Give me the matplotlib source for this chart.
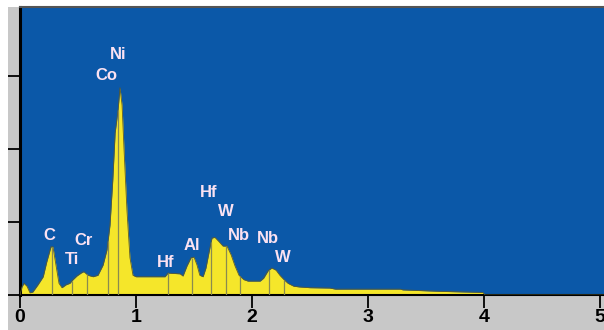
import numpy as np
import matplotlib.pyplot as plt
from matplotlib.patches import Rectangle

# spectrum (energy keV, counts in axis units)
energy = [0.0, 0.017, 0.034, 0.06, 0.086, 0.11, 0.155, 0.2, 0.23, 0.267, 0.284,
          0.31, 0.336, 0.362, 0.397, 0.43, 0.457, 0.49, 0.526, 0.55, 0.586, 0.63,
          0.672, 0.716, 0.75, 0.776, 0.8, 0.82, 0.845, 0.862, 0.88, 0.897, 0.922,
          0.948, 0.974, 1.0, 1.12, 1.25, 1.276, 1.38, 1.405, 1.44, 1.474, 1.5,
          1.526, 1.55, 1.578, 1.603, 1.63, 1.655, 1.68, 1.716, 1.75, 1.784, 1.82,
          1.853, 1.888, 1.93, 1.966, 2.07, 2.1, 2.138, 2.17, 2.207, 2.24, 2.276,
          2.31, 2.36, 2.41, 2.5, 2.67, 2.72, 3.28, 3.3, 3.62, 3.99, 4.01, 5.034]
counts = [0.0, 0.11, 0.16, 0.12, 0.03, 0.04, 0.14, 0.25, 0.45, 0.66, 0.66,
          0.41, 0.16, 0.10, 0.14, 0.16, 0.21, 0.26, 0.30, 0.32, 0.27, 0.25,
          0.27, 0.41, 0.62, 0.96, 1.58, 2.22, 2.53, 2.84, 2.6, 1.99, 1.16,
          0.51, 0.27, 0.25, 0.25, 0.25, 0.30, 0.29, 0.26, 0.40, 0.51, 0.52,
          0.41, 0.27, 0.25, 0.37, 0.59, 0.78, 0.79, 0.73, 0.67, 0.67, 0.55,
          0.40, 0.27, 0.21, 0.19, 0.19, 0.23, 0.33, 0.37, 0.34, 0.27, 0.21,
          0.16, 0.12, 0.11, 0.10, 0.095, 0.08, 0.08, 0.07, 0.05, 0.035, 0.0, 0.0]

# element markers
elements = ['C', 'Ti', 'Cr', 'Co', 'Ni', 'Hf', 'Al', 'Hf', 'W', 'Nb', 'Nb', 'W']
line_e = [0.276, 0.448, 0.578, 0.759, 0.845, 1.276, 1.483, 1.647, 1.776, 1.897, 2.147, 2.276]
label_x = [0.25, 0.448, 0.552, 0.741, 0.845, 1.259, 1.483, 1.63, 1.776, 1.888, 2.138, 2.267]
label_y = [0.82, 0.49, 0.75, 3.0, 3.29, 0.45, 0.68, 1.40, 1.14, 0.82, 0.78, 0.51]

xticks = [0, 1, 2, 3, 4, 5]

blue = '#0B58A8'
yellow = '#F5E62A'
gray = '#C8C8C8'
label_col = '#FBE2F2'

W, H = 604, 330
fig = plt.figure(figsize=(W / 100, H / 100), dpi=100, facecolor='white')
fig.patches.append(Rectangle((8 / W, 0), 1, (H - 7) / H, transform=fig.transFigure,
                             facecolor=gray, edgecolor='none', zorder=-5))

ax = fig.add_axes([20 / W, (H - 295) / H, (W - 20) / W, (295 - 7) / H])
ax.set_zorder(2)
ax.set_facecolor(blue)
ax.set_xlim(0, 584 / 116)
ax.set_ylim(0, 288 / 73)

ax.fill_between(energy, counts, 0, color=yellow, linewidth=0, zorder=2)
ax.plot(energy, counts, color='#5A5A30', linewidth=0.6, zorder=3)

heights = np.interp(line_e, energy, counts)
ax.vlines(line_e, 0, heights, color='#8A8A50', linewidth=0.9, zorder=3)

for name, lx, ly in zip(elements, label_x, label_y):
    ax.text(lx, ly, name, color=label_col, fontsize=12, fontweight='bold',
            family='Liberation Sans', ha='center', va='center', zorder=4)

ax.set_xticks(xticks)
ax.set_xticklabels([str(t) for t in xticks], fontsize=14, fontweight='bold',
                   family='Liberation Sans')
ax.set_yticks([0, 1, 2, 3])
ax.set_yticklabels([])
ax.tick_params(axis='x', direction='out', length=9, width=1.3, pad=1, colors='black')
ax.tick_params(axis='y', direction='out', length=9, width=1.3, colors='black')

ax.spines['left'].set_linewidth(2.2)
ax.spines['left'].set_color('black')
ax.spines['bottom'].set_linewidth(1.5)
ax.spines['bottom'].set_color('black')
ax.spines['top'].set_linewidth(1.5)
ax.spines['top'].set_color('#555555')
ax.spines['right'].set_visible(False)

fig.savefig('out.png', dpi=100, facecolor='white')
